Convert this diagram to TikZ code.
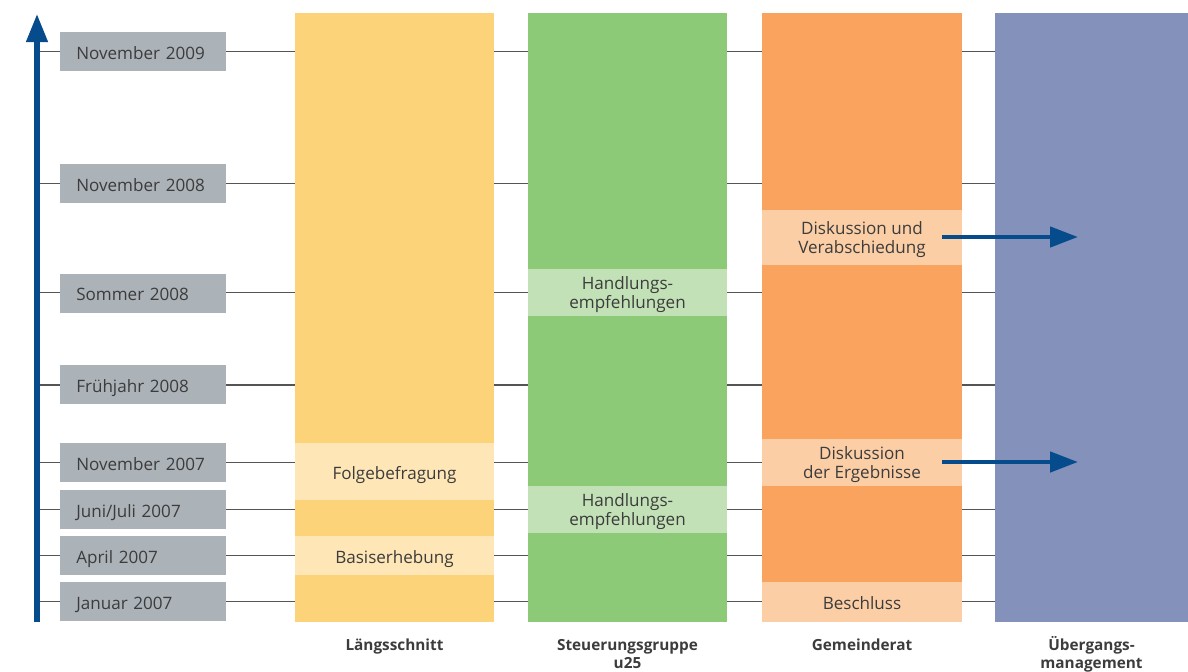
\documentclass[tikz,border=0pt]{standalone}
\usepackage{fontspec}
\setmainfont{Open Sans}
\usetikzlibrary{arrows.meta}
\definecolor{axisblue}{HTML}{064C8C}
\definecolor{boxgray}{HTML}{ABB2B8}
\definecolor{yel}{HTML}{FDD37A}
\definecolor{yellt}{HTML}{FEE6B6}
\definecolor{grn}{HTML}{8CCA78}
\definecolor{grnlt}{HTML}{C2E1B6}
\definecolor{org}{HTML}{F9A35F}
\definecolor{orglt}{HTML}{FBCEA6}
\definecolor{blu}{HTML}{8391BB}
\definecolor{txt}{HTML}{3C3C3C}
\definecolor{gridc}{HTML}{555555}
\newcommand{\lblfont}{\fontsize{12.8}{14}\selectfont}
\newcommand{\headfont}{\fontsize{11.5}{13.5}\selectfont\bfseries}
\begin{document}
\begin{tikzpicture}[x=0.75pt,y=-0.75pt,
  gridline/.style={draw=gridc,line width=0.9pt},
  datebox/.style={fill=boxgray,inner sep=0pt,anchor=west,minimum width=124.5pt,minimum height=29.25pt,text width=100.5pt,align=left,text=txt,font=\lblfont,text height=11.3pt,text depth=0pt},
  band/.style={fill=#1,inner sep=0pt,align=center,text=txt,font=\lblfont,text depth=0pt},
  oneline/.style={text height=11.4pt},
  column/.style={fill=#1,inner sep=0pt,minimum width=149.25pt,minimum height=456.75pt},
  head/.style={align=center,text=txt,font=\headfont,inner sep=0pt,anchor=north},
  flow/.style={draw=axisblue,line width=3.4pt,-{Triangle[length=21pt,width=15pt]}},
  timeaxis/.style={draw=axisblue,line width=4pt,-{Triangle[length=21pt,width=15.5pt]}}
]
\useasboundingbox (0,0) rectangle (1188,671);

% grid lines
\foreach \yy in {51.5,183.5,292.5,385,462.5,509.5,555.5,601.5}
  \draw[gridline] (37,\yy) -- (995,\yy);

% columns
\node[column=yel,anchor=north west] (c1) at (295,13) {};
\node[column=grn,anchor=north west] (c2) at (528,13) {};
\node[column=org,anchor=north west,minimum width=150pt] (c3) at (762,13) {};
\node[column=blu,anchor=north west,minimum width=144.75pt] (c4) at (995,13) {};

% bands column 1
\node[band=yellt,oneline,minimum width=149.25pt,minimum height=42.75pt] (b11) at (394.5,471.5) {Folgebefragung};
\node[band=yellt,oneline,minimum width=149.25pt,minimum height=29.25pt] (b12) at (394.5,555.5) {Basiserhebung};
% bands column 2
\node[band=grnlt,minimum width=149.25pt,minimum height=35.25pt] (b21) at (627.5,292.5) {Handlungs-\\empfehlungen};
\node[band=grnlt,minimum width=149.25pt,minimum height=35.25pt] (b22) at (627.5,509.5) {Handlungs-\\empfehlungen};
% bands column 3
\node[band=orglt,minimum width=150pt,minimum height=41.25pt] (b31) at (862,237.5) {Diskussion und\\Verabschiedung};
\node[band=orglt,minimum width=150pt,minimum height=35.25pt] (b32) at (862,462.5) {Diskussion\\der Ergebnisse};
\node[band=orglt,oneline,minimum width=150pt,minimum height=30pt] (b33) at (862,602) {Beschluss};

% date boxes
\node[datebox] (d1) at (60,51.5) {November 2009};
\node[datebox] (d2) at (60,183.5) {November 2008};
\node[datebox] (d3) at (60,293) {Sommer 2008};
\node[datebox] (d4) at (60,384.5) {Frühjahr 2008};
\node[datebox] (d5) at (60,462.5) {November 2007};
\node[datebox] (d6) at (60,509.5) {Juni/Juli 2007};
\node[datebox] (d7) at (60,555.5) {April 2007};
\node[datebox] (d8) at (60,601.5) {Januar 2007};

% time axis
\coordinate (ax0) at (37,622);
\coordinate (ax1) at (37,14);
\draw[timeaxis] (ax0) -- (ax1);

% flow arrows
\coordinate (f1s) at (942,237);
\coordinate (f1e) at (1078,237);
\coordinate (f2s) at (942,462);
\coordinate (f2e) at (1078,462);
\draw[flow] (f1s) -- (f1e);
\draw[flow] (f2s) -- (f2e);

% column heads
\node[head] (h1) at (394.5,636) {\vphantom{Ü}Längsschnitt};
\node[head] (h2) at (627.5,636) {\vphantom{Ü}Steuerungsgruppe\\u25};
\node[head] (h3) at (862,636) {\vphantom{Ü}Gemeinderat};
\node[head] (h4) at (1091.5,636) {Übergangs-\\management};
\end{tikzpicture}
\end{document}
